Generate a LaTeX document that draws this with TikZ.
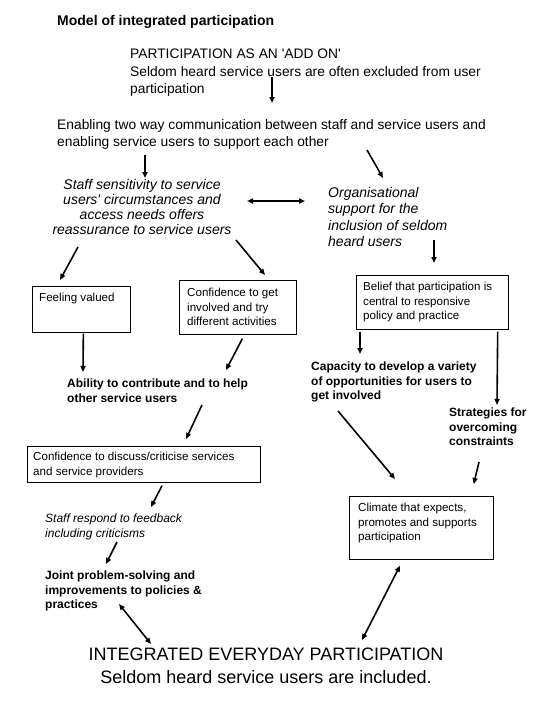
\documentclass[tikz,border=0pt]{standalone}
\usepackage{fontspec}
\setmainfont{Liberation Sans}
\usetikzlibrary{arrows.meta,calc,positioning}

\tikzset{
  plaintext/.style={anchor=north west, inner sep=0pt, align=left, font=\fontsize{13.8}{17.5}\selectfont},
  italictext/.style={anchor=north west, inner sep=0pt, align=left, font=\fontsize{14}{16.5}\selectfont\itshape},
  boldtext/.style={anchor=north west, inner sep=0pt, align=left, font=\fontsize{12}{14.3}\selectfont\bfseries},
  boxtext/.style={anchor=north west, inner sep=0pt, align=left, font=\fontsize{11.6}{14.5}\selectfont},
  framebox/.style={draw, line width=0.7pt, anchor=north west, inner sep=0pt},
  arr/.style={line width=1.6pt, -{Triangle[length=6pt,width=5pt]}},
  darr/.style={line width=1.6pt, {Triangle[length=6pt,width=5pt]}-{Triangle[length=6pt,width=5pt]}}
}

\begin{document}
\begin{tikzpicture}[x=1pt,y=-1pt]
  \useasboundingbox (0,0) rectangle (540,720);

  % Title
  \node[anchor=north west, inner sep=0pt, font=\fontsize{14}{17}\selectfont\bfseries] (title) at (57,15) {Model of integrated participation};

  % Starting point
  \node[plaintext] (part) at (130,49) {PARTICIPATION AS AN \textquotesingle ADD ON\textquotesingle\\Seldom heard service users are often excluded from user\\participation};
  \node[plaintext] (enab) at (57,119) {Enabling two way communication between staff and service users and\\enabling service users to support each other};

  % Two strands
  \node[italictext, anchor=north, align=center, font=\fontsize{14}{15}\selectfont\itshape] (sens) at (142,179) {Staff sensitivity to service\\users\textquotesingle\ circumstances and\\access needs offers\\reassurance to service users};
  \node[italictext] (org) at (328,187) {Organisational\\support for the\\inclusion of seldom\\heard users};

  % Boxes, first row
  \node[framebox, minimum width=98pt, minimum height=46pt] (feel) at (32,286) {};
  \node[boxtext] (feeltxt) at ($(feel.north west)+(7,7)$) {Feeling valued};
  \node[framebox, minimum width=117pt, minimum height=54pt] (conf) at (179,280) {};
  \node[boxtext] (conftxt) at ($(conf.north west)+(8,8)$) {Confidence to get\\involved and try\\different activities};
  \node[framebox, minimum width=152pt, minimum height=54pt] (bel) at (356,275) {};
  \node[boxtext] (beltxt) at ($(bel.north west)+(7,7)$) {Belief that participation is\\central to responsive\\policy and practice};

  % Bold outcomes
  \node[boldtext] (abil) at (67,379) {Ability to contribute and to help\\other service users};
  \node[boldtext] (cap) at (311,362) {Capacity to develop a variety\\of opportunities for users to\\get involved};
  \node[boldtext] (strat) at (449,408) {Strategies for\\overcoming\\constraints};

  % Lower left chain
  \node[framebox, minimum width=233pt, minimum height=36pt] (disc) at (27,446) {};
  \node[boxtext] (disctxt) at ($(disc.north west)+(6,6)$) {Confidence to discuss/criticise services\\and service providers};
  \node[italictext, font=\fontsize{12}{15}\selectfont\itshape] (resp) at (45,514) {Staff respond to feedback\\including criticisms};
  \node[boldtext] (joint) at (45,571) {Joint problem-solving and\\improvements to policies \&\\practices};

  % Lower right box
  \node[framebox, minimum width=144pt, minimum height=63pt] (clim) at (349,496) {};
  \node[boxtext] (climtxt) at ($(clim.north west)+(9,7)$) {Climate that expects,\\promotes and supports\\participation};

  % End point
  \node[anchor=north, inner sep=0pt, align=center, font=\fontsize{18}{23}\selectfont] (final) at (266,648) {INTEGRATED EVERYDAY PARTICIPATION\\Seldom heard service users are included.};

  % Arrows
  \draw[arr] ($(part.north west)+(142,28)$) -- ($(enab.north west)+(215,-16)$);
  \draw[arr] ($(enab.north west)+(88,36)$) -- ($(sens.north)+(3,-1)$);
  \draw[arr] ($(enab.north west)+(310,31)$) -- ($(org.north west)+(55,-9)$);
  \draw[darr] ($(sens.north)+(105,22)$) -- ($(org.north west)+(-23,14)$);
  \draw[arr] ($(sens.north)+(-64,68)$) -- ($(feel.north west)+(28,-6)$);
  \draw[arr] ($(sens.north)+(94,61)$) -- ($(conf.north west)+(86,-5)$);
  \draw[arr] ($(org.north west)+(106,53)$) -- ($(bel.north west)+(78,-12)$);
  \draw[arr] ($(feel.south)+(2,1)$) -- ($(abil.north west)+(16,-7)$);
  \draw[arr] ($(conf.south)+(4.5,4)$) -- ($(abil.north west)+(159,-9)$);
  \draw[arr] ($(bel.south west)+(4,2)$) -- ($(cap.north west)+(49,-8)$);
  \draw[arr] ($(bel.south east)+(-11,2)$) -- ($(strat.north west)+(48,-3)$);
  \draw[arr] ($(abil.north west)+(135,26)$) -- ($(disc.north west)+(159,-7)$);
  \draw[arr] ($(cap.north west)+(27,49)$) -- ($(clim.north west)+(46,-17)$);
  \draw[arr] ($(strat.north west)+(30,54)$) -- ($(clim.north east)+(-20,-12)$);
  \draw[arr] ($(disc.south west)+(135,3)$) -- ($(resp.north west)+(106,-7)$);
  \draw[arr] ($(resp.north west)+(72,28)$) -- ($(joint.north west)+(61,-7)$);
  \draw[darr] ($(joint.north west)+(74,33)$) -- ($(final.north)+(-115,-4)$);
  \draw[darr] ($(clim.south west)+(51,6)$) -- ($(final.north)+(96,-8)$);
\end{tikzpicture}
\end{document}
